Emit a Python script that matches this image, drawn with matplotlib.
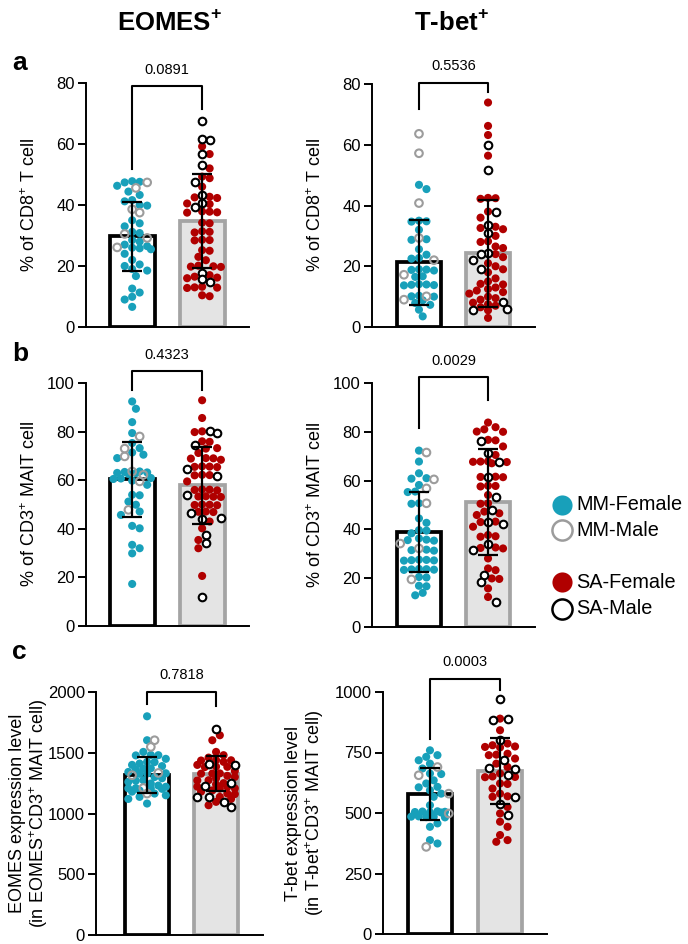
import numpy as np
import matplotlib
matplotlib.use("Agg")
import matplotlib.pyplot as plt

plt.rcParams['font.family'] = ['Liberation Sans', 'DejaVu Sans']
plt.rcParams['mathtext.fontset'] = 'custom'
plt.rcParams['mathtext.rm'] = 'Liberation Sans'
plt.rcParams['mathtext.bf'] = 'Liberation Sans:bold'

# ---------------------------------------------------
# Data
# ---------------------------------------------------
groups = ['MM', 'SA']

# a-left: EOMES+ % of CD8+ T cell
eo_cd8_mm_f = [47.8, 47.6, 47.4, 46.3, 44.4, 43.3, 41.6, 41.2, 40.0, 39.8, 35.0, 34.0, 33.0, 31.2,
               30.8, 28.5, 28.0, 27.0, 26.5, 26.0, 25.8, 25.5, 24.0, 22.0, 20.5, 20.0, 19.0, 18.5,
               16.7, 12.6, 11.3, 9.9, 9.0, 6.6]
eo_cd8_mm_m = [47.4, 45.6, 38.6, 37.5, 30.5, 29.2, 26.1]
eo_cd8_sa_f = [59.2, 56.7, 52.0, 49.3, 48.8, 46.0, 42.7, 42.5, 42.3, 40.5, 40.3, 37.8, 37.5, 37.6,
               37.9, 34.0, 34.2, 31.2, 31.0, 31.4, 28.5, 28.4, 28.6, 25.2, 25.0, 23.0, 21.9, 19.7,
               19.9, 20.1, 19.8, 17.0, 16.5, 16.2, 16.0, 13.2, 13.0, 12.8, 12.9, 10.1, 10.4]
eo_cd8_sa_m = [67.4, 61.7, 61.2, 56.7, 53.2, 47.7, 43.3, 40.8, 39.5, 17.8, 15.9, 14.8]

# a-right: T-bet+ % of CD8+ T cell
tb_cd8_mm_f = [46.8, 45.4, 35.0, 34.7, 34.8, 32.0, 28.7, 28.9, 25.6, 23.8, 22.7, 22.5, 18.8, 18.6,
               19.0, 18.9, 16.7, 16.5, 13.9, 14.0, 13.8, 14.1, 13.7, 10.1, 10.3, 10.0, 8.8, 7.3,
               7.9, 5.7, 3.5]
tb_cd8_mm_m = [63.6, 57.2, 40.8, 29.3, 22.0, 17.2, 10.1, 9.0]
tb_cd8_sa_f = [73.9, 66.2, 63.2, 56.4, 42.4, 42.2, 42.5, 38.0, 36.0, 33.0, 32.6, 32.2, 30.0, 28.0,
               28.2, 26.0, 26.5, 24.0, 23.0, 21.0, 20.0, 19.0, 18.0, 16.0, 15.0, 14.0, 14.2, 13.0,
               12.5, 12.0, 11.5, 11.0, 10.0, 9.5, 9.0, 8.0, 7.5, 7.0, 6.5, 5.5, 3.0]
tb_cd8_sa_m = [60.0, 51.7, 37.7, 33.6, 30.9, 24.3, 24.1, 22.1, 19.1, 8.1, 5.9, 5.5]

# b-left: EOMES+ % of CD3+ MAIT cell
eo_mait_mm_f = [92.4, 89.4, 83.9, 79.4, 75.3, 73.2, 71.4, 70.5, 69.1, 63.6, 63.4, 63.2, 63.0, 62.9,
                62.6, 60.9, 60.7, 60.5, 59.8, 58.1, 54.0, 53.8, 51.2, 49.9, 47.1, 45.7, 41.2, 40.2,
                33.4, 32.0, 29.9, 17.3]
eo_mait_mm_m = [78.0, 73.0, 69.8, 63.6, 62.2, 59.5, 47.8]
eo_mait_sa_f = [92.9, 85.6, 80.1, 79.8, 76.0, 75.8, 73.2, 73.0, 71.2, 69.1, 69.0, 68.9, 68.4, 65.7,
                65.5, 65.6, 65.4, 62.2, 62.0, 62.1, 59.5, 56.0, 56.2, 55.8, 56.1, 53.3, 53.1, 53.2,
                53.4, 49.9, 49.7, 49.8, 50.0, 47.1, 47.0, 46.9, 43.0, 40.2, 35.4, 32.0, 20.6]
eo_mait_sa_m = [80.1, 79.4, 74.6, 64.6, 61.8, 54.0, 46.4, 44.4, 44.2, 37.5, 34.3, 12.0]

# b-right: T-bet+ % of CD3+ MAIT cell
tb_mait_mm_f = [72.3, 67.8, 63.0, 61.0, 60.8, 58.2, 55.5, 55.3, 50.5, 50.7, 44.5, 42.7, 39.7, 39.5,
                38.4, 36.3, 35.6, 35.4, 35.8, 31.5, 31.7, 31.3, 27.4, 27.2, 27.6, 27.3, 27.5, 23.6,
                23.4, 23.8, 23.5, 23.7, 20.5, 20.3, 16.7, 16.9, 13.0, 14.0]
tb_mait_mm_m = [71.5, 60.5, 56.8, 50.7, 34.2, 32.2, 19.5]
tb_mait_sa_f = [83.8, 81.9, 80.1, 80.0, 81.0, 76.7, 76.5, 74.0, 67.8, 67.6, 67.9, 67.7, 70.5, 67.1,
                61.6, 61.4, 61.5, 57.8, 57.6, 57.9, 54.1, 50.7, 50.5, 46.6, 47.3, 45.9, 43.2, 41.1,
                43.0, 37.0, 37.7, 37.2, 32.2, 32.6, 32.4, 28.1, 24.0, 19.9, 23.3, 19.7, 15.8, 12.3]
tb_mait_sa_m = [76.4, 71.2, 67.8, 61.6, 53.4, 47.9, 43.2, 42.2, 34.2, 31.5, 21.2, 18.5, 10.3]

# c-left: EOMES expression level
eo_mfi_mm_f = [1800, 1603, 1507, 1480, 1478, 1482, 1450, 1425, 1423, 1411, 1400, 1390, 1370, 1372,
               1360, 1342, 1329, 1327, 1331, 1300, 1290, 1274, 1270, 1260, 1247, 1230, 1220, 1205,
               1207, 1203, 1209, 1190, 1180, 1164, 1150, 1137, 1120, 1082]
eo_mfi_mm_m = [1603, 1548, 1315, 1334, 1210, 1164]
eo_mfi_sa_f = [1644, 1603, 1507, 1480, 1460, 1438, 1436, 1440, 1425, 1400, 1384, 1382, 1386, 1350,
               1329, 1330, 1301, 1328, 1310, 1290, 1274, 1272, 1250, 1240, 1219, 1221, 1205, 1207,
               1190, 1180, 1164, 1160, 1137, 1120, 1096, 1068]
eo_mfi_sa_m = [1699, 1405, 1403, 1247, 1225, 1137, 1135, 1096, 1055]

# c-right: T-bet expression level
tb_mfi_mm_f = [759, 739, 732, 718, 704, 684, 663, 661, 635, 622, 608, 606, 594, 580, 567, 532, 505,
               503, 506, 504, 502, 507, 484, 483, 485, 486, 482, 457, 443, 388, 374]
tb_mfi_mm_m = [690, 656, 580, 498, 360]
tb_mfi_sa_f = [890, 842, 787, 780, 773, 775, 771, 745, 739, 741, 725, 704, 690, 663, 649, 651, 648,
               622, 620, 601, 580, 567, 569, 525, 498, 464, 443, 409, 381, 388]
tb_mfi_sa_m = [970, 890, 883, 800, 718, 684, 682, 656, 567, 539, 491]

# bar heights (mean) and SD per panel, [MM, SA]
bar_means = [[29.8, 34.8], [21.3, 24.3], [60.4, 57.9], [38.9, 51.3], [1317, 1329], [578, 674]]
bar_sds = [[11.3, 15.3], [14.0, 17.6], [15.5, 15.9], [16.4, 21.6], [152, 143], [108, 136]]

# p-values, bracket height and bracket leg ends
p_values = ['0.0891', '0.5536', '0.4323', '0.0029', '0.7818', '0.0003']
bracket_top = [78.9, 80.4, 104.8, 102.3, 2000, 1055]
bracket_legs = [(51.7, 71.5), (71.7, 77.5), (97.3, 97.3), (81.5, 93.2), (1904, 1882), (807, 1009)]

y_max = [80, 80, 100, 100, 2000, 1000]
y_step = [20, 20, 20, 20, 500, 250]
y_labels = ['% of CD8$^{+}$ T cell', '% of CD8$^{+}$ T cell',
            '% of CD3$^{+}$ MAIT cell', '% of CD3$^{+}$ MAIT cell',
            'EOMES expression level\n(in EOMES$^{+}$CD3$^{+}$ MAIT cell)',
            'T-bet expression level\n(in T-bet$^{+}$CD3$^{+}$ MAIT cell)']

panel_data = [
    (eo_cd8_mm_f, eo_cd8_mm_m, eo_cd8_sa_f, eo_cd8_sa_m),
    (tb_cd8_mm_f, tb_cd8_mm_m, tb_cd8_sa_f, tb_cd8_sa_m),
    (eo_mait_mm_f, eo_mait_mm_m, eo_mait_sa_f, eo_mait_sa_m),
    (tb_mait_mm_f, tb_mait_mm_m, tb_mait_sa_f, tb_mait_sa_m),
    (eo_mfi_mm_f, eo_mfi_mm_m, eo_mfi_sa_f, eo_mfi_sa_m),
    (tb_mfi_mm_f, tb_mfi_mm_m, tb_mfi_sa_f, tb_mfi_sa_m),
]

# ---------------------------------------------------
# Layout (pixels of the 688x944 canvas)
# ---------------------------------------------------
W, H = 688, 944
TEAL = '#18a0ba'
RED = '#b00000'
GREY = '#9c9c9c'

# left, top, right, bottom in pixels; xlim in bar units
rects = [(86, 83, 249, 327), (372, 84, 535, 327),
         (86, 383, 249, 626), (372, 383, 535, 627),
         (96, 692, 263, 935), (383, 692, 547, 934)]
xlims = [(-0.66, 1.67), (-0.68, 1.68), (-0.66, 1.67), (-0.68, 1.68), (-0.74, 1.68), (-0.67, 1.67)]
label_x = [-0.29, -0.29, -0.29, -0.29, -0.275, -0.345]


def swarm(vals, px_x, px_y, d=7.5, half_width=20.0):
    # deterministic beeswarm in pixel space, points may overlap when crowded
    vals = np.asarray(vals, dtype=float)
    ys = vals * px_y
    xs = np.zeros(len(vals))
    placed = []
    steps = [0.0]
    k = 1
    while k * d * 0.5 <= half_width:
        steps += [k * d * 0.5, -k * d * 0.5]
        k += 1
    for i in np.argsort(-ys):
        best, best_gap = 0.0, -1.0
        for off in steps:
            gap = min([np.hypot(off - px, ys[i] - py) for px, py in placed] + [99.0])
            if gap >= d:
                best = off
                break
            if gap > best_gap:
                best, best_gap = off, gap
        xs[i] = best
        placed.append((best, ys[i]))
    return xs / px_x


fig = plt.figure(figsize=(W / 100, H / 100), dpi=100)

for k in range(6):
    L, T, R, B = rects[k]
    ax = fig.add_axes([L / W, 1 - B / H, (R - L) / W, (B - T) / H])
    ax.set_xlim(*xlims[k])
    ax.set_ylim(0, y_max[k])
    px_x = (R - L) / (xlims[k][1] - xlims[k][0])
    px_y = (B - T) / y_max[k]

    means = bar_means[k]
    sds = bar_sds[k]
    ax.bar([0, 1], means, width=0.64, color=['white', '#e4e4e4'],
           edgecolor=['black', '#a4a4a4'], linewidth=2.7, zorder=1)

    mm_f, mm_m, sa_f, sa_m = panel_data[k]
    for gi, (fem, mal, fcol, mcol) in enumerate([(mm_f, mm_m, TEAL, GREY), (sa_f, sa_m, RED, 'black')]):
        vals = list(fem) + list(mal)
        xs = gi + swarm(vals, px_x, px_y)
        nf = len(fem)
        ax.scatter(xs[:nf], fem, s=34, color=fcol, edgecolor='none', zorder=3, clip_on=False)
        ax.scatter(xs[nf:], mal, s=30, facecolor='white' if gi == 1 else 'none',
                   edgecolor=mcol, linewidth=1.5, zorder=4, clip_on=False)

    ax.errorbar([0, 1], means, yerr=sds, fmt='none', ecolor='black', elinewidth=1.6,
                capsize=7, capthick=1.6, zorder=5)

    # significance bracket
    top = bracket_top[k]
    l0, l1 = bracket_legs[k]
    ax.plot([0, 0, 1, 1], [l0, top, top, l1], color='black', lw=1.5, clip_on=False, zorder=6)
    ax.annotate(p_values[k], xy=(0.5, top), xytext=(0, 7), textcoords='offset points',
                ha='center', va='bottom', fontsize=10.5, annotation_clip=False)

    ax.set_yticks(np.arange(0, y_max[k] + 1, y_step[k]))
    ax.set_xticks([])
    ax.tick_params(axis='y', labelsize=12, width=1.4, length=6, pad=2)
    for s in ['top', 'right']:
        ax.spines[s].set_visible(False)
    ax.spines['left'].set_linewidth(1.4)
    ax.spines['bottom'].set_linewidth(1.4)
    ax.set_ylabel(y_labels[k], fontsize=13, linespacing=1.1)
    ax.yaxis.set_label_coords(label_x[k], 0.5)
    ax.patch.set_visible(False)

# column headers and panel letters
fig.text(170 / W, 1 - 22 / H, 'EOMES$^{\\mathbf{+}}$', fontsize=18.5, fontweight='bold', ha='center', va='center')
fig.text(451 / W, 1 - 22 / H, 'T-bet$^{\\mathbf{+}}$', fontsize=18.5, fontweight='bold', ha='center', va='center')
for letter, yy in zip(['a', 'b', 'c'], [63, 354, 652]):
    fig.text(12 / W, 1 - yy / H, letter, fontsize=19, fontweight='bold', ha='left', va='center')

# legend
lax = fig.add_axes([0, 0, 1, 1])
lax.set_xlim(0, W)
lax.set_ylim(H, 0)
lax.axis('off')
leg_names = ['MM-Female', 'MM-Male', 'SA-Female', 'SA-Male']
leg_face = [TEAL, 'white', RED, 'white']
leg_edge = [TEAL, GREY, RED, 'black']
leg_y = [505, 530, 582, 609]
for name, fc, ec, yy in zip(leg_names, leg_face, leg_edge, leg_y):
    lax.plot(562, yy, 'o', ms=14.5, mfc=fc, mec=ec, mew=1.8 if fc == 'white' else 0)
    lax.text(576, yy, name, fontsize=14.3, va='center', ha='left')

fig.savefig('out.png', dpi=100)
